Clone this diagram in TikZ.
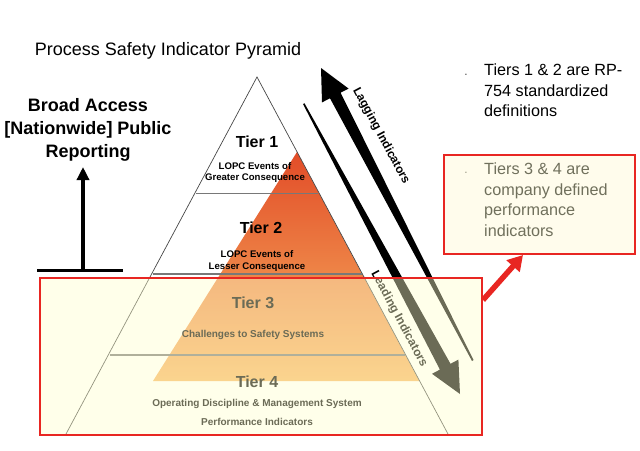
\documentclass[tikz,border=0pt]{standalone}
\usepackage{fontspec}
\setmainfont{Liberation Sans}
\usetikzlibrary{arrows.meta,calc}
\definecolor{overlay}{RGB}{255,255,205}
\definecolor{boxfill}{RGB}{255,252,236}
\definecolor{redline}{RGB}{232,38,34}
\definecolor{orangeTop}{RGB}{226,76,40}
\definecolor{orangeMid}{RGB}{238,132,66}
\definecolor{orangeBot}{RGB}{248,182,98}
\definecolor{grayText}{RGB}{112,112,92}
\definecolor{pyrline}{RGB}{70,70,70}
\definecolor{tierline}{RGB}{120,120,120}
\tikzset{
  pyr/.style={draw=pyrline, line width=0.7pt},
  tierdiv/.style={draw=tierline, line width=1.2pt},
  tiername/.style={font=\fontsize{16}{18}\selectfont\bfseries, inner sep=0},
  tierdesc/.style={font=\fontsize{9.6}{11.6}\selectfont\bfseries, inner sep=0, align=center},
  tierdescb/.style={font=\fontsize{10}{12}\selectfont\bfseries, inner sep=0, align=center},
  indlabel/.style={font=\fontsize{12}{14}\selectfont\bfseries, inner sep=0, rotate=-61.8},
  sidetext/.style={font=\fontsize{16.2}{20.5}\selectfont, inner sep=0, align=left, anchor=north west},
  bullet/.style={font=\fontsize{10}{12}\selectfont, inner sep=0},
  redbox/.style={draw=redline, line width=2pt, inner sep=0, anchor=north west},
}
\begin{document}
\begin{tikzpicture}[x=1pt,y=-1pt]
\useasboundingbox (0,0) rectangle (640,450);

% title
\node[font=\fontsize{18}{20}\selectfont, inner sep=0] (title) at (168,51) {Process Safety Indicator Pyramid};

% public reporting text
\node[font=\fontsize{18}{23}\selectfont\bfseries, align=center, inner sep=0] (public) at (88,130)
  {Broad Access\\{}{[Nationwide]} Public\\Reporting};
\coordinate (barL) at (37,270.5);
\coordinate (barR) at (123,270.5);
\coordinate (barM) at (83,270.5);
\coordinate (upTip) at (83,167);
\draw[line width=3.2pt] (barL) -- (barR);
\draw[line width=3.4pt, -{Triangle[length=13pt,width=12pt]}] (barM) -- (upTip);

% orange gradient triangle
\shade[top color=orangeTop, middle color=orangeMid, bottom color=orangeBot]
  (297,152) -- (419.3,381) -- (153,381) -- cycle;

% pyramid
\coordinate (apex) at (257,77);
\coordinate (baseL) at (66,434);
\coordinate (baseR) at (448,434);
\draw[pyr] (baseL) -- (apex) -- (baseR);
\draw[tierdiv] (196,193.5) -- (318,193.5);
\draw[tierdiv] (152.5,274) -- (361.5,274);
\draw[tierdiv] (109.5,355) -- (404.5,355);

% tier texts
\node[tiername] (t1) at (257,142) {Tier 1};
\node[tierdesc] (t1d) at (255,172.5) {LOPC Events of\\Greater Consequence};
\node[tiername] (t2) at (261,228) {Tier 2};
\node[tierdesc] (t2d) at (257,261) {LOPC Events of\\Lesser Consequence};
\node[tiername] (t3) at (253,302.5) {Tier 3};
\node[tierdescb] (t3d) at (253,334.5) {Challenges to Safety Systems};
\node[tiername] (t4) at (257,382) {Tier 4};
\node[tierdescb] (t4d) at (257,404) {Operating Discipline \& Management System};
\node[tierdescb] (t4e) at (257,422) {Performance Indicators};

% lagging arrow (tip up-left, tapering to tail)
\coordinate (lagTip) at (321,68);
\coordinate (lagB1) at (348.6,88.6);
\coordinate (lagS1) at (340.6,92.7);
\coordinate (lagTail) at (473.5,360);
\coordinate (lagTail2) at (472,361);
\coordinate (lagS2) at (330,98.3);
\coordinate (lagB2) at (322,102.4);
\fill[black] (lagTip) -- (lagB1) -- (lagS1) -- (lagTail) -- (lagTail2) -- (lagS2) -- (lagB2) -- cycle;

% leading arrow (thin tail up-left, head down-right)
\coordinate (leadTail) at (303,104);
\coordinate (leadTail2) at (304.5,103.3);
\coordinate (leadS1) at (450.5,363.8);
\coordinate (leadB1) at (458.4,359.6);
\coordinate (leadTip) at (460,394);
\coordinate (leadB2) at (432,373.8);
\coordinate (leadS2) at (439.9,369.6);
\fill[black] (leadTail) -- (leadTail2) -- (leadS1) -- (leadB1) -- (leadTip) -- (leadB2) -- (leadS2) -- cycle;

\node[indlabel] (lag) at (381,136) {Lagging Indicators};
\node[indlabel] (lead) at (399,319) {Leading Indicators};

% lower overlay box (tiers 3 & 4)
\node[redbox, fill=overlay, fill opacity=0.42, draw opacity=1, minimum width=442pt, minimum height=157pt] (lowbox) at (39,277) {};

% right texts
\node[bullet] (b1) at (466,76) {·};
\node[sidetext] (s1) at (484,64) {Tiers 1 \& 2 are RP-\\754 standardized\\definitions};

\node[redbox, fill=boxfill, minimum width=191pt, minimum height=99pt] (upbox) at (443,154) {};
\node[bullet, text=grayText] (b2) at (466,174) {·};
\node[sidetext, text=grayText] (s2) at (484,163) {Tiers 3 \& 4 are\\company defined\\performance\\indicators};

% red connector arrow
\coordinate (raStart) at ($(lowbox.north east)+(0,23)$);
\coordinate (raEnd) at ($(upbox.south west)+(80,0)$);
\draw[redline, line width=5.5pt, -{Triangle[length=15pt,width=17pt]}] (raStart) -- (raEnd);
\end{tikzpicture}
\end{document}
